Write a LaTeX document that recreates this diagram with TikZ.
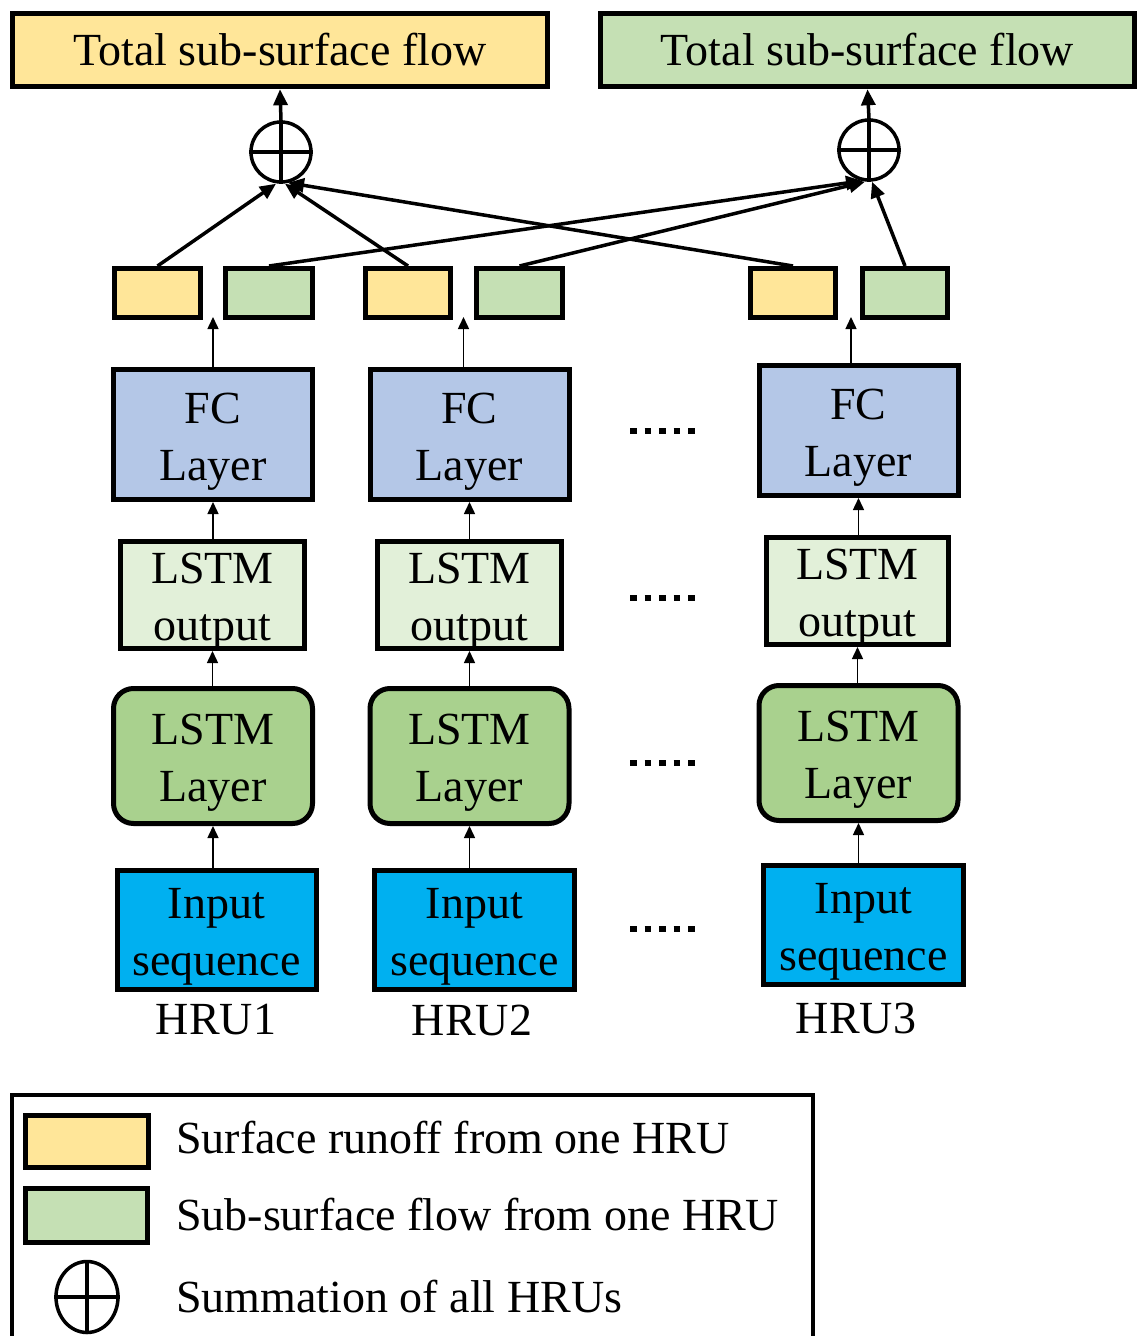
\documentclass[tikz,border=0pt]{standalone}
\usepackage{fontspec}
\setmainfont{Liberation Serif}
\usetikzlibrary{arrows.meta,calc,shapes.geometric}
\definecolor{cyel}{HTML}{FFE699}
\definecolor{cgrn}{HTML}{C5E0B4}
\definecolor{cfc}{HTML}{B4C7E7}
\definecolor{clo}{HTML}{E2F0D9}
\definecolor{cll}{HTML}{A9D18E}
\definecolor{cin}{HTML}{00B0F0}
\begin{document}
\begin{tikzpicture}[x=1pt,y=-1pt,
  txt/.style={font=\fontsize{46}{57}\selectfont},
  box/.style={draw, line width=5pt, inner sep=0pt, align=center, txt},
  two/.style={box, text height=91pt, text depth=0pt},
  topbox/.style={box, line width=5.5pt, minimum height=73pt},
  small/.style={draw, line width=5pt, minimum height=49pt, inner sep=0pt},
  fcbox/.style={two, fill=cfc, minimum width=199pt, minimum height=130pt},
  lobox/.style={two, fill=clo, minimum width=184pt, minimum height=107pt},
  llbox/.style={two, fill=cll, rounded corners=20pt, minimum width=199pt, minimum height=135pt},
  inbox/.style={two, fill=cin, minimum width=199pt, minimum height=119pt},
  sumc/.style={draw, circle, line width=3.5pt, minimum size=60pt, inner sep=0pt},
  thin/.style={line width=1.5pt, -{Triangle[length=12pt,width=11pt]}},
  thick/.style={line width=3.5pt, -{Triangle[length=16pt,width=14pt]}},
  dots/.style={line width=6.5pt, dash pattern=on 6.5pt off 8pt}
]
\useasboundingbox (0,0) rectangle (1139,1336);

% top boxes
\node[topbox, fill=cyel, minimum width=535pt] (top1) at (280,50) {Total sub-surface flow};
\node[topbox, fill=cgrn, minimum width=534pt] (top2) at (867.5,50) {Total sub-surface flow};

% sums
\node[sumc] (sum1) at (281,152) {};
\node[sumc] (sum2) at (869,150) {};
\foreach \s in {sum1,sum2}{
  \draw[line width=3.5pt] (\s.west) -- (\s.east);
  \draw[line width=3.5pt] (\s.south) -- (\s.north);
}
\draw[thick] (sum1.north) -- (top1.south);
\draw[thick] (sum2.north) -- (top2.south);

% small output boxes
\node[small, fill=cyel, minimum width=86pt] (y1) at (157.5,293) {};
\node[small, fill=cgrn, minimum width=87pt] (g1) at (269,293) {};
\node[small, fill=cyel, minimum width=85pt] (y2) at (408,293) {};
\node[small, fill=cgrn, minimum width=86pt] (g2) at (519.5,293) {};
\node[small, fill=cyel, minimum width=85pt] (y3) at (793,293) {};
\node[small, fill=cgrn, minimum width=85pt] (g3) at (905,293) {};

\draw[thick] (y1.north) -- ([xshift=-5pt]sum1.south);
\draw[thick] (y2.north) -- ([xshift=4pt]sum1.south);
\draw[thick] (y3.north) -- ([xshift=7pt,yshift=1pt]sum1.south);
\draw[thick] (g1.north) -- ([xshift=-7pt,yshift=1pt]sum2.south);
\draw[thick] (g2.north) -- ([xshift=-4pt]sum2.south);
\draw[thick] (g3.north) -- ([xshift=3pt]sum2.south);

% FC layers
\node[fcbox] (fc1) at (213,434.5) {FC\\Layer};
\node[fcbox] (fc2) at (469.5,434.5) {FC\\Layer};
\node[fcbox] (fc3) at (858.5,430.5) {FC\\Layer};

\coordinate (gap1) at ($(y1.south east)!0.5!(g1.south west)+(0,-3)$);
\coordinate (gap2) at ($(y2.south east)!0.5!(g2.south west)+(0,-3)$);
\coordinate (gap3) at ($(y3.south east)!0.5!(g3.south west)+(2,-3)$);

% LSTM output
\node[lobox] (lo1) at (212.5,595) {LSTM\\output};
\node[lobox] (lo2) at (469.5,595) {LSTM\\output};
\node[lobox, minimum width=182pt] (lo3) at (857.5,591) {LSTM\\output};

% LSTM layer
\node[llbox] (ll1) at (213,756) {LSTM\\Layer};
\node[llbox] (ll2) at (469.5,756) {LSTM\\Layer};
\node[llbox] (ll3) at (858.5,753) {LSTM\\Layer};

% Input
\node[inbox] (in1) at (216.5,930) {Input\\sequence};
\node[inbox, minimum width=200pt] (in2) at (474.5,930) {Input\\sequence};
\node[inbox, minimum width=200pt] (in3) at (863.5,925) {Input\\sequence};

\node[txt, inner sep=0pt] (h1) at (216,1020) {HRU1};
\node[txt, inner sep=0pt] (h2) at (472,1020) {HRU2};
\node[txt, inner sep=0pt] (h3) at (856,1018) {HRU3};

\foreach \i in {1,2,3}{
  \draw[thin] (gap\i |- fc\i.north) -- (gap\i);
  \draw[thin] (fc\i.south |- lo\i.north) -- (fc\i.south);
  \draw[thin] (lo\i.south |- ll\i.north) -- (lo\i.south);
  \draw[thin] (ll\i.south |- in\i.north) -- (ll\i.south);
}

% dots
\foreach \yy in {431,598,763,929}{
  \draw[dots] (630,\yy) -- (700,\yy);
}

% legend
\draw[line width=4pt] (12,1340) -- (12,1095) -- (813,1095) -- (813,1340);
\node[small, fill=cyel, minimum width=123pt, minimum height=52pt] (lgy) at (87,1141.5) {};
\node[small, fill=cgrn, minimum width=122pt, minimum height=54pt] (lgg) at (86.5,1215.5) {};
\node[draw, ellipse, line width=3.5pt, minimum width=62pt, minimum height=71pt, inner sep=0pt] (lgs) at (87,1297) {};
\draw[line width=3.5pt] (lgs.west) -- (lgs.east);
\draw[line width=3.5pt] (lgs.south) -- (lgs.north);
\node[txt, anchor=west, inner sep=0pt] (t1) at (176,1138) {Surface runoff from one HRU};
\node[txt, anchor=west, inner sep=0pt] (t2) at (176,1215) {Sub-surface flow from one HRU};
\node[txt, anchor=west, inner sep=0pt] (t3) at (176,1297) {Summation of all HRUs};
\end{tikzpicture}
\end{document}
